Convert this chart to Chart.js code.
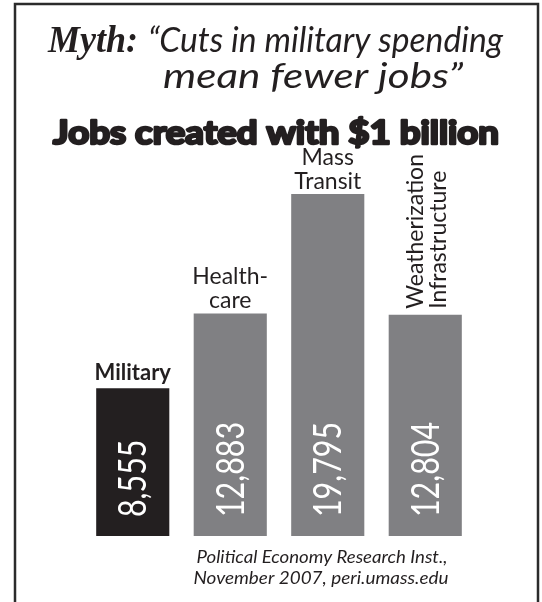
<!DOCTYPE html>
<html>
<head>
<meta charset="utf-8">
<script src="https://cdn.jsdelivr.net/npm/chart.js@4.4.1/dist/chart.umd.min.js"></script>
<style>
  html, body { margin: 0; padding: 0; background: #ffffff; }
  #wrap { width: 542px; height: 602px; }
</style>
</head>
<body>
<div id="wrap"><canvas id="c" width="542" height="602"></canvas></div>
<script>
// ---- data ----
const categories = ['Military', 'Healthcare', 'Mass Transit', 'Weatherization Infrastructure'];
const jobs = [8555, 12883, 19795, 12804];
const valueLabels = ['8,555', '12,883', '19,795', '12,804'];
const labelLines = [['Military'], ['Health-', 'care'], ['Mass', 'Transit'], ['Weatherization', 'Infrastructure']];
const rotatedLabel = [false, false, false, true];
const boldLabel = [true, false, false, false];
const barColors = ['#231f20', '#808083', '#808083', '#808083'];
const titleMyth = 'Myth:';
const titleLines = ['\u201CCuts in military spending', 'mean fewer jobs\u201D'];
const subtitle = 'Jobs created with $1 billion';
const sourceLines = ['Political Economy Research Inst.,', 'November 2007, peri.umass.edu'];

const INK = '#231f20';

function fitText(ctx, text, x, y, font, width, align, stroke) {
  ctx.font = font;
  const w = ctx.measureText(text).width;
  const s = width / w;
  ctx.save();
  ctx.translate(x, y);
  ctx.scale(s, 1);
  ctx.textAlign = 'left';
  ctx.textBaseline = 'alphabetic';
  const x0 = align === 'center' ? -w / 2 : (align === 'right' ? -w : 0);
  if (stroke) {
    ctx.lineJoin = 'round';
    ctx.lineWidth = stroke;
    ctx.strokeStyle = ctx.fillStyle;
    ctx.strokeText(text, x0, 0);
  }
  ctx.fillText(text, x0, 0);
  ctx.restore();
}

const textPlugin = {
  id: 'texts',
  afterDraw(chart) {
    const ctx = chart.ctx;
    const meta = chart.getDatasetMeta(0);
    ctx.save();

    // frame
    ctx.strokeStyle = '#2b2b2b';
    ctx.lineWidth = 2.5;
    ctx.beginPath();
    ctx.moveTo(15, 620); ctx.lineTo(15, 4); ctx.lineTo(538, 4); ctx.lineTo(538, 620);
    ctx.stroke();

    // titles
    ctx.fillStyle = INK;
    fitText(ctx, titleMyth, 48, 52, 'bold italic 38px "Liberation Serif"', 90, 'left');
    fitText(ctx, titleLines[0], 148, 52, 'italic 34px Lato', 355, 'left');
    fitText(ctx, titleLines[1], 163, 88, 'italic 34px Lato', 300, 'left');
    fitText(ctx, subtitle, 53, 144, 'bold 33px Lato', 446, 'left', 2.6);

    // bar labels and values
    ctx.font = '38px Lato';
    const vScale = 95 / ctx.measureText('12,883').width;
    meta.data.forEach((bar, i) => {
      const cx = bar.x;
      const top = bar.y;
      const base = bar.base;
      ctx.fillStyle = INK;
      const lines = labelLines[i];
      if (rotatedLabel[i]) {
        ctx.save();
        ctx.font = '23px Lato';
        ctx.textAlign = 'left';
        ctx.textBaseline = 'alphabetic';
        ctx.translate(cx - 2, top - 6);
        ctx.rotate(-Math.PI / 2);
        lines.forEach((ln, k) => ctx.fillText(ln, 0, k * 23));
        ctx.restore();
      } else {
        ctx.font = (boldLabel[i] ? 'bold 22px' : '23px') + ' Lato';
        ctx.textAlign = 'center';
        ctx.textBaseline = 'alphabetic';
        const n = lines.length;
        const off = boldLabel[i] ? 8 : 5;
        lines.forEach((ln, k) => ctx.fillText(ln, cx, top - off - (n - 1 - k) * 24));
      }
      // value inside bar
      ctx.save();
      ctx.fillStyle = '#ffffff';
      ctx.font = '38px Lato';
      ctx.textAlign = 'left';
      ctx.textBaseline = 'alphabetic';
      ctx.translate(cx + 13.5, base - 19);
      ctx.rotate(-Math.PI / 2);
      ctx.scale(vScale, 1);
      ctx.fillText(valueLabels[i], 0, 0);
      ctx.restore();
    });

    // source
    ctx.fillStyle = INK;
    fitText(ctx, sourceLines[0], 322, 563, 'italic 17px Lato', 251, 'center');
    fitText(ctx, sourceLines[1], 321, 584, 'italic 17px Lato', 255, 'center');
    ctx.restore();
  }
};

new Chart(document.getElementById('c'), {
  type: 'bar',
  data: {
    labels: categories,
    datasets: [{
      data: jobs,
      backgroundColor: barColors,
      borderWidth: 0,
      categoryPercentage: 1.0,
      barPercentage: 0.75
    }]
  },
  options: {
    responsive: false,
    animation: false,
    devicePixelRatio: 1,
    layout: { padding: { left: 84, right: 68, top: 194, bottom: 66 } },
    scales: {
      x: { display: false },
      y: { display: false, min: 0, max: 19795 }
    },
    plugins: { legend: { display: false }, tooltip: { enabled: false }, title: { display: false } }
  },
  plugins: [textPlugin]
});
</script>
</body>
</html>
